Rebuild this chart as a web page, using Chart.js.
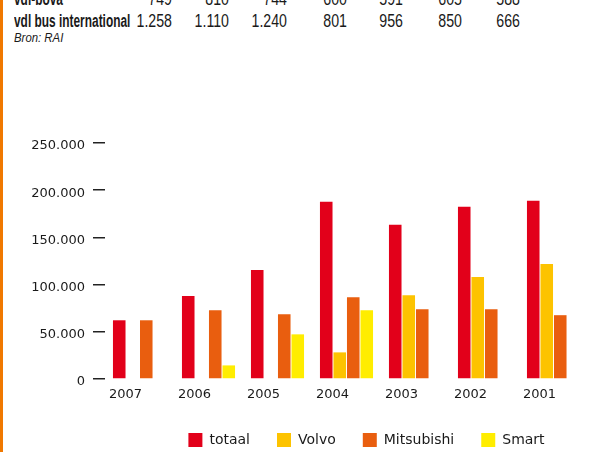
<!DOCTYPE html>
<html>
<head>
<meta charset="utf-8">
<script src="https://cdn.jsdelivr.net/npm/chart.js@4.4.1/dist/chart.umd.min.js"></script>
<style>
  html, body { margin: 0; padding: 0; background: #fff; overflow: hidden; }
  body { width: 606px; height: 452px; position: relative; }
  #edge { position: absolute; left: 0; top: 0; width: 3px; height: 452px; background: #f07800; }
  .t { position: absolute; font-family: "Liberation Sans", sans-serif; font-size: 17.5px; line-height: 19px; color: #1a1a1a; white-space: nowrap; }
  .lbl { left: 14px; font-weight: bold; transform-origin: left center; transform: scaleX(0.68); }
  .num { width: 60px; text-align: right; transform-origin: right center; transform: scaleX(0.81); }
  #bron { position: absolute; left: 14px; top: 30px; font-family: "Liberation Sans", sans-serif; font-style: italic; font-size: 13px; line-height: 15px; color: #1a1a1a; transform-origin: left center; transform: scaleX(0.875); }
  #myChart { position: absolute; left: 0; top: 120px; }
</style>
</head>
<body>
<div id="edge"></div>
<div id="table"></div>
<div id="bron">Bron: RAI</div>
<canvas id="myChart" width="606" height="337"></canvas>
<script>
// tabel boven de grafiek
var rowNames = ["vdl-bova", "vdl bus international"];
var rowValues = [
    ["749", "810", "744", "600", "591", "605", "588"],
    ["1.258", "1.110", "1.240", "801", "956", "850", "666"]
];
var colRight = [172, 229, 287, 347, 403, 462, 520];
var rowTop = [-10, 12];

var table = document.getElementById("table");
rowNames.forEach(function (name, r) {
    var d = document.createElement("div");
    d.className = "t lbl";
    d.style.top = rowTop[r] + "px";
    d.textContent = name;
    table.appendChild(d);
    rowValues[r].forEach(function (v, c) {
        var n = document.createElement("div");
        n.className = "t num";
        n.style.top = rowTop[r] + "px";
        n.style.left = (colRight[c] - 60) + "px";
        n.textContent = v;
        table.appendChild(n);
    });
});

// grafiek
var years = ["2007", "2006", "2005", "2004", "2003", "2002", "2001"];
var totaal = [62200, 87800, 115400, 187800, 163300, 182400, 188800];
var volvo = [null, null, null, 28200, 88800, 108000, 121800];
var mitsubishi = [62200, 72900, 68600, 86700, 73900, 73900, 67600];
var smart = [null, 14400, 47300, 72900, null, null, null];
var yTicks = [0, 50000, 100000, 150000, 200000, 250000];

var txt = "#1a1a1a";

function dots(v) {
    return String(v).replace(/\B(?=(\d{3})+(?!\d))/g, ".");
}

// legenda staat in het origineel rechts van het midden
var legendShift = {
    id: "legendShift",
    afterLayout: function (chart) {
        chart.legend.left += 57;
        chart.legend.right += 57;
    }
};

new Chart("myChart", {
    type: "bar",
    data: {
        labels: years,
        datasets: [
            { label: "totaal", data: totaal, backgroundColor: "#e2001a" },
            { label: "Volvo", data: volvo, backgroundColor: "#fdc300" },
            { label: "Mitsubishi", data: mitsubishi, backgroundColor: "#e95e0f" },
            { label: "Smart", data: smart, backgroundColor: "#ffed00" }
        ]
    },
    options: {
        responsive: false,
        animation: false,
        devicePixelRatio: 1,
        layout: { padding: { left: 31, top: 23, right: 18, bottom: 0 } },
        datasets: {
            bar: { categoryPercentage: 0.783, barPercentage: 0.93 }
        },
        plugins: {
            tooltip: { enabled: false },
            legend: {
                position: "bottom",
                labels: {
                    boxWidth: 14,
                    boxHeight: 14,
                    padding: 27,
                    color: txt,
                    font: { family: "DejaVu Sans", size: 14 }
                }
            }
        },
        scales: {
            x: {
                grid: { display: false },
                border: { display: false },
                ticks: {
                    color: txt,
                    padding: 0,
                    labelOffset: -14,
                    maxRotation: 0,
                    font: { family: "DejaVu Sans", size: 13 }
                },
                afterFit: function (s) { s.height = 27; }
            },
            y: {
                min: 0,
                max: 250000,
                afterBuildTicks: function (s) {
                    s.ticks = yTicks.map(function (v) { return { value: v }; });
                },
                grid: {
                    drawOnChartArea: false,
                    drawTicks: true,
                    tickLength: 12,
                    lineWidth: 1.5,
                    color: "#222"
                },
                border: { display: false },
                ticks: {
                    color: txt,
                    padding: 8,
                    labelOffset: 3,
                    font: { family: "DejaVu Sans", size: 13 },
                    callback: function (v) { return dots(v); }
                },
                afterFit: function (s) { s.width = 74; }
            }
        }
    },
    plugins: [legendShift]
});
</script>
</body>
</html>
